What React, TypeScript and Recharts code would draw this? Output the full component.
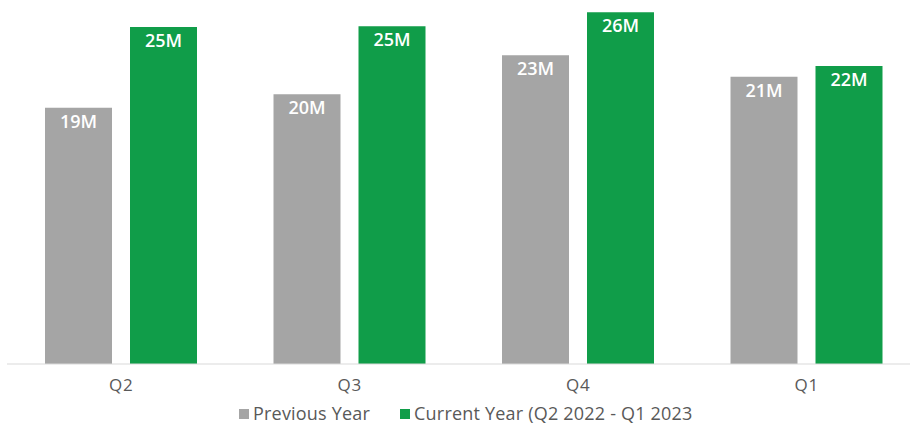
import React from 'react';
import { BarChart, Bar, XAxis, YAxis, LabelList, Legend } from 'recharts';

const quarters = ['Q2', 'Q3', 'Q4', 'Q1'];
const previousYear = [19.0, 20.0, 22.9, 21.3];
const currentYear = [25.0, 25.05, 26.1, 22.1];
const seriesNames = ['Previous Year', 'Current Year (Q2 2022 - Q1 2023'];
const seriesColors = ['#A5A5A5', '#109D49'];

const data = quarters.map((q, i) => ({ q, prev: previousYear[i], curr: currentYear[i] }));

const FONT = '"Open Sans", "Noto Sans", sans-serif';

const fmt = (v: number) => `${Math.round(v)}M`;

const LegendContent = () => (
  <div style={{ display: 'flex', justifyContent: 'flex-start', paddingLeft: 232, paddingTop: 0, fontFamily: FONT, fontSize: 18, letterSpacing: 0.2, color: '#595959', lineHeight: '22px' }}>
    {seriesNames.map((n, i) => (
      <div key={n} style={{ display: 'flex', alignItems: 'center', marginRight: 30 }}>
        <span style={{ display: 'inline-block', width: 10, height: 10, background: seriesColors[i], marginRight: 4, marginTop: 2 }} />
        <span>{n}</span>
      </div>
    ))}
  </div>
);

export default function App() {
  return (
    <div style={{ position: 'absolute', left: 0, top: 0, width: 910, height: 424, overflow: 'hidden', background: '#fff' }}>
      <BarChart width={921} height={424} data={data} margin={{ top: 0, right: 0, bottom: 0, left: 7 }} barSize={67} barGap={18}>
        <XAxis dataKey="q" axisLine={{ stroke: '#D9D9D9' }} tickLine={false} tick={{ fill: '#595959', fontSize: 17, fontFamily: FONT, letterSpacing: 0.8 }} tickMargin={9} height={38} />
        <YAxis hide domain={[0, 27]} />
        <Legend verticalAlign="bottom" height={22} content={<LegendContent />} />
        <Bar dataKey="prev" fill={seriesColors[0]} isAnimationActive={false}>
          <LabelList dataKey="prev" position="insideTop" offset={7} formatter={fmt} fill="#FFFFFF" fontSize={18} fontFamily={FONT} fontWeight={600} />
        </Bar>
        <Bar dataKey="curr" fill={seriesColors[1]} isAnimationActive={false}>
          <LabelList dataKey="curr" position="insideTop" offset={7} formatter={fmt} fill="#FFFFFF" fontSize={18} fontFamily={FONT} fontWeight={600} />
        </Bar>
      </BarChart>
    </div>
  );
}
